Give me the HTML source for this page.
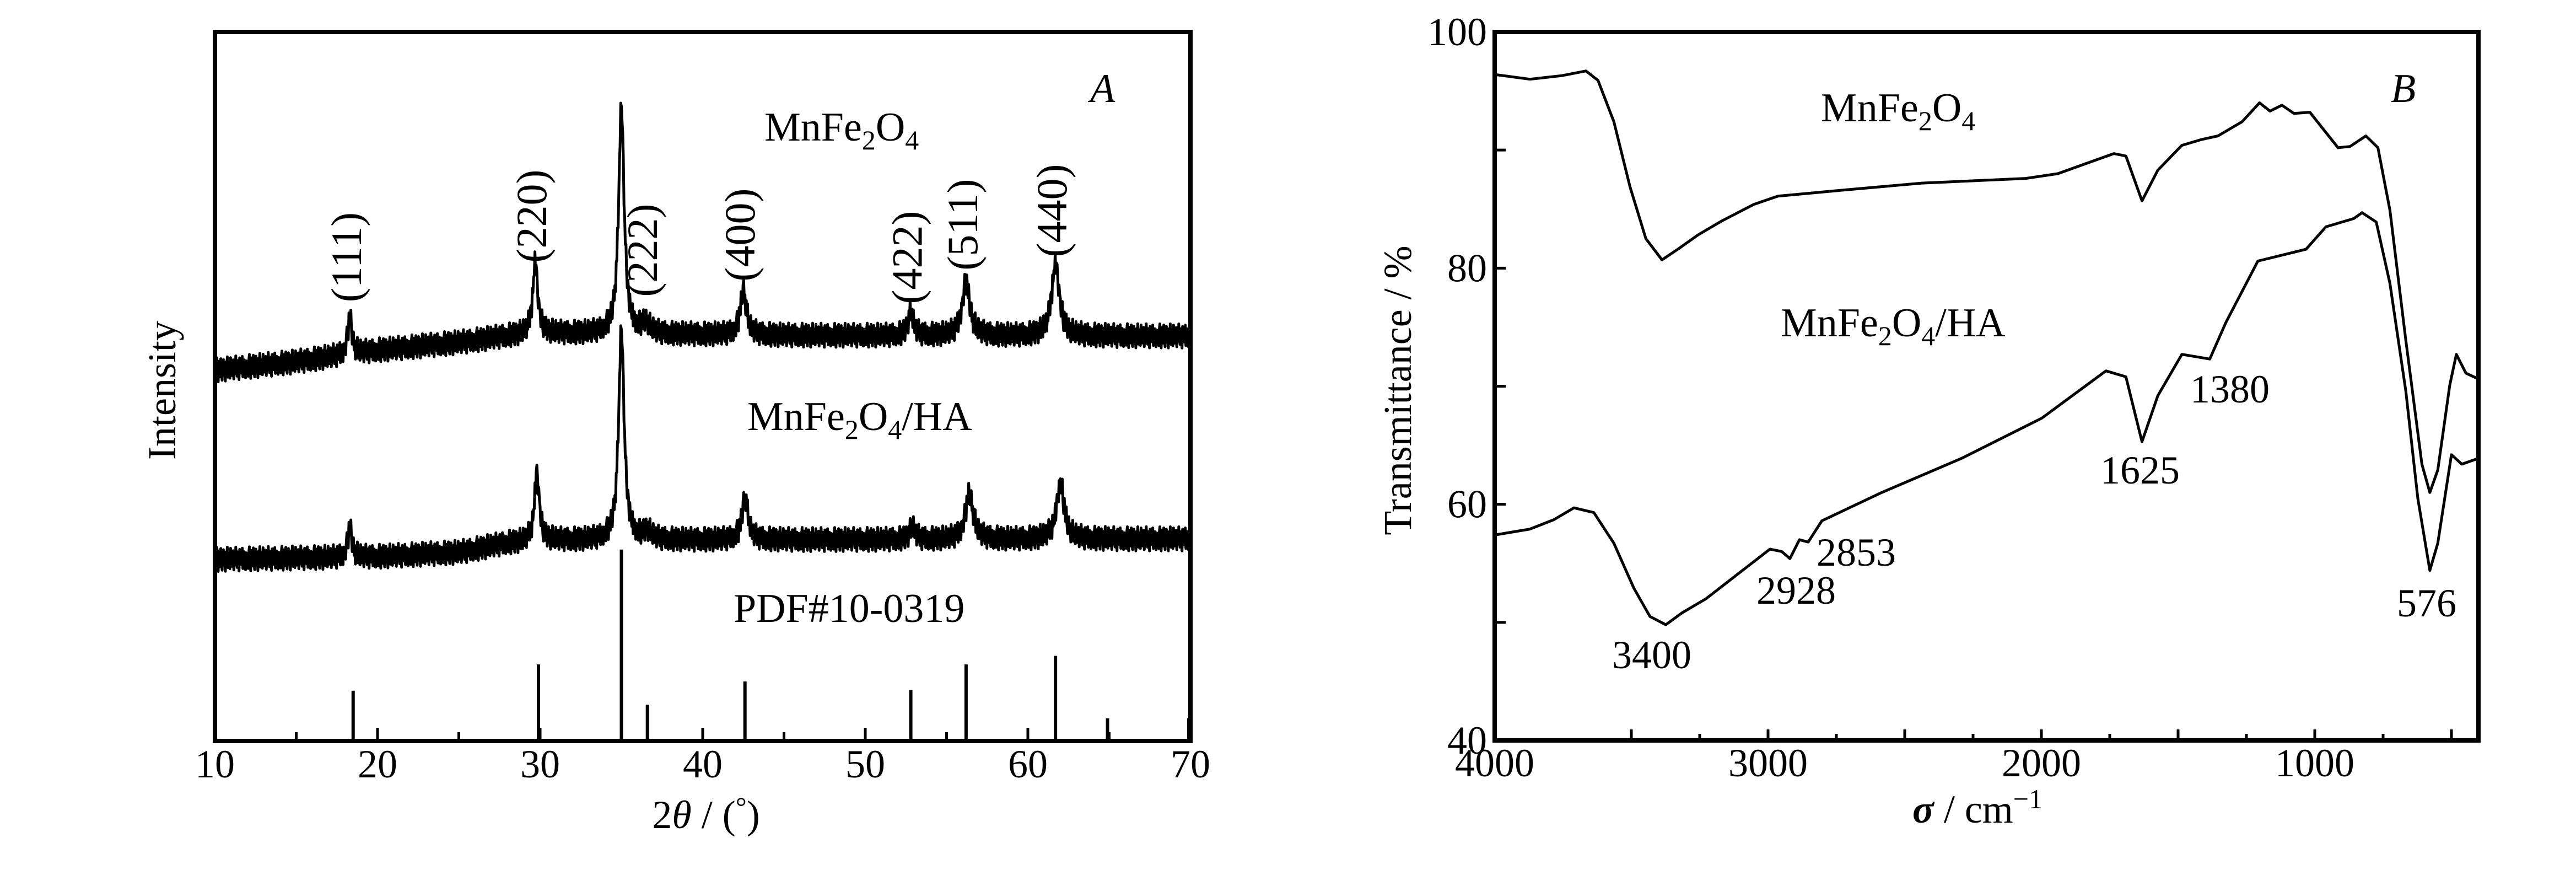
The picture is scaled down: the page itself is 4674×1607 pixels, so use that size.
<!DOCTYPE html>
<html><head><meta charset="utf-8"><style>
html,body{margin:0;padding:0;background:#fff;}
svg{display:block;font-family:"Liberation Serif",serif;}
</style></head><body>
<svg id="fig" width="4674" height="1607" viewBox="0 0 4674 1607" xmlns="http://www.w3.org/2000/svg">
<g id="panelA"></g>
<g id="panelB"></g>
</svg>
<script>
// ---------- Panel A data (XRD) ----------
const xrdTopBaseX = [10,15,20,25,28,30,45,70];
const xrdTopBaseY = [523,535,551,562,571,575,572,571];
const xrdTopPeakPos = [18.3,29.7,35.0,36.5,42.5,52.8,56.2,61.7];
const xrdTopPeakH = [54,101,322,15,64,33,75,102];
const xrdBotBaseX = [10,20,25,28,31,70];
const xrdBotBaseY = [256,260,266,279,283,285];
const xrdBotPeakPos = [18.3,29.8,35.0,36.6,42.6,52.9,56.4,62.0];
const xrdBotPeakH = [43,97,298,12,60,18,65,80];
const peakWidths = [0.15,0.18,0.2,0.3,0.22,0.2,0.28,0.28];
const noisePattern = [0.3,-0.8,0.5,1,-0.4,-1,0.7,0.1,-0.6,0.9,-0.2,-0.9,0.4,0.8,-0.5,0.2,-1,0.6,-0.3,1,-0.7,0.1,0.5,-0.8,0.9,-0.1,-0.6,0.3,0.7,-0.9,0.2,-0.4,1,-0.2,-0.7,0.6,0.4,-1,0.8,-0.3,0.1,-0.5,0.9,-0.8,0.3,0.6,-0.1,-0.9,0.5,0.2];
const pdfPos = [18.5,29.9,35.0,36.6,42.6,52.8,56.2,61.7,64.9,69.9];
const pdfH = [71,108,270,51,84,72,108,120,32,32];
const xTicksA = [10,20,30,40,50,60,70];
const millerLabels = ["(111)","(220)","(222)","(400)","(422)","(511)","(440)"];
const millerPos = [18.3,29.7,36.5,42.5,52.8,56.2,61.7];

// ---------- Panel B data (FTIR) ----------
const ftirTopWn = [4000,3871,3754,3666,3622,3564,3505,3447,3388,3330,3257,3169,3052,2964,2730,2437,2057,1940,1735,1691,1632,1574,1486,1413,1354,1266,1202,1164,1120,1076,1018,915,871,813,769,725,667,608,579,550,506,482,447,400];
const ftirTopT = [96.4,96.0,96.3,96.7,95.9,92.4,86.9,82.5,80.7,81.6,82.8,84.0,85.4,86.1,86.6,87.2,87.6,88.0,89.7,89.5,85.7,88.3,90.4,90.9,91.2,92.4,94.0,93.3,93.8,93.1,93.2,90.2,90.3,91.2,90.2,84.9,73.9,63.4,61.0,62.9,70.1,72.7,71.1,70.6];
const ftirBotWn = [4000,3871,3783,3710,3637,3564,3491,3432,3374,3315,3227,3110,2993,2950,2920,2885,2853,2803,2584,2291,1998,1764,1691,1632,1574,1486,1384,1325,1208,1120,1032,959,857,827,775,725,667,623,579,550,500,462,400];
const ftirBotT = [57.4,57.9,58.7,59.7,59.3,56.7,52.9,50.5,49.8,50.8,52.0,54.1,56.2,56.0,55.4,57.0,56.8,58.6,61.0,63.9,67.3,71.3,70.8,65.3,69.2,72.7,72.3,75.4,80.6,81.1,81.6,83.5,84.2,84.7,83.9,78.7,69.6,60.5,54.4,56.7,64.2,63.4,63.9];
const yTicksB = [40,60,80,100];
const xTicksB = [4000,3000,2000,1000];

const NS = "http://www.w3.org/2000/svg";
function mk(parent, tag, attrs, text){
  const e = document.createElementNS(NS, tag);
  for (const k in attrs) e.setAttribute(k, attrs[k]);
  if (text !== undefined) e.textContent = text;
  parent.appendChild(e); return e;
}
function interp(xs, ys, x){
  if (x <= xs[0]) return ys[0];
  for (let i=1;i<xs.length;i++){ if (x <= xs[i]){ const t=(x-xs[i-1])/(xs[i]-xs[i-1]); return ys[i-1]+t*(ys[i]-ys[i-1]); } }
  return ys[ys.length-1];
}

// ---------- Panel A ----------
const A = document.getElementById('panelA');
const aL=390, aR=2160, aT=58, aB=1344;
const ax = v => aL + (v-10)/60*(aR-aL);
const ay = v => aB - v*1.286;

function xrdPath(bx, by, pp, ph){
  let d = ""; let k=0;
  for (let x=10; x<=70.001; x+=0.04){
    let v = interp(bx, by, x);
    for (let i=0;i<pp.length;i++){ const w=peakWidths[i]; v += ph[i]/(1+((x-pp[i])/w)**2); }
    v += noisePattern[k % noisePattern.length]*17;
    d += (k?"L":"M") + ax(x).toFixed(1) + "," + ay(v).toFixed(1);
    k++;
  }
  return d;
}
const pTop = mk(A,'path',{d:xrdPath(xrdTopBaseX,xrdTopBaseY,xrdTopPeakPos,xrdTopPeakH),fill:'none',stroke:'#000','stroke-width':5,'stroke-linejoin':'round'});


const pBot = mk(A,'path',{d:xrdPath(xrdBotBaseX,xrdBotBaseY,xrdBotPeakPos,xrdBotPeakH),fill:'none',stroke:'#000','stroke-width':5,'stroke-linejoin':'round'});



for (let i=0;i<pdfPos.length;i++){
  const s = mk(A,'line',{x1:ax(pdfPos[i]),x2:ax(pdfPos[i]),y1:aB,y2:ay(pdfH[i]),stroke:'#000','stroke-width':6});
  
  
}
const fA = mk(A,'rect',{x:aL,y:aT,width:aR-aL,height:aB-aT,fill:'none',stroke:'#000','stroke-width':8});


for (let v=15; v<70; v+=5){
  const major = v%10===0;
  const t = mk(A,'line',{x1:ax(v),x2:ax(v),y1:aB,y2:aB-(major?24:16),stroke:'#000','stroke-width':5});
  
  
}
xTicksA.forEach(v=>{
  const t = mk(A,'text',{x:ax(v),y:1410,'font-size':72,'text-anchor':'middle'},String(v));
  
  
});
millerLabels.forEach((s,i)=>{
  const top = [395,302,380,349,390,333,302][i], bot=[538,482,528,503,544,482,462][i];
  const cy=(top+bot)/2, cx=ax(millerPos[i])+20;
  const t = mk(A,'text',{x:cx,y:cy,'font-size':78,'text-anchor':'middle',transform:`rotate(-90 ${cx} ${cy})`},s);
  
  
});
let t;
t = mk(A,'text',{x:1387,y:255,'font-size':74});


t.innerHTML = 'MnFe<tspan font-size="50" dy="16">2</tspan><tspan dy="-16">O</tspan><tspan font-size="50" dy="16">4</tspan>';
t = mk(A,'text',{x:1356,y:780,'font-size':74});


t.innerHTML = 'MnFe<tspan font-size="50" dy="16">2</tspan><tspan dy="-16">O</tspan><tspan font-size="50" dy="16">4</tspan><tspan dy="-16">/HA</tspan>';
t = mk(A,'text',{x:1331,y:1128,'font-size':74},'PDF#10-0319');


t = mk(A,'text',{x:1978,y:185,'font-size':74,'font-style':'italic'},'A');


t = mk(A,'text',{x:318,y:708,'font-size':72,'text-anchor':'middle',transform:'rotate(-90 318 708)'},'Intensity');


t = mk(A,'text',{x:1281,y:1502,'font-size':72,'text-anchor':'middle'});


t.innerHTML = '2<tspan font-style="italic">θ</tspan> / (<tspan dy="-22" font-size="50">°</tspan><tspan dy="22">)</tspan>';

// ---------- Panel B ----------
const B = document.getElementById('panelB');
const bL=2712, bR=4497, bT=58, bB=1343;
const bx = w => bL + (4000-w)*0.496;
const by = v => bB - (v-40)/60*(bB-bT);
function ftirPath(ws, ts){ return ws.map((w,i)=>(i?"L":"M")+bx(w).toFixed(1)+","+by(ts[i]).toFixed(1)).join(""); }
const f1 = mk(B,'path',{d:ftirPath(ftirTopWn,ftirTopT),fill:'none',stroke:'#000','stroke-width':5,'stroke-linejoin':'round'});


const f2 = mk(B,'path',{d:ftirPath(ftirBotWn,ftirBotT),fill:'none',stroke:'#000','stroke-width':5,'stroke-linejoin':'round'});


const fB = mk(B,'rect',{x:bL,y:bT,width:bR-bL,height:bB-bT,fill:'none',stroke:'#000','stroke-width':8});


for (let w=3500; w>=500; w-=250){
  const major = w%500===0;
  const k = mk(B,'line',{x1:bx(w),x2:bx(w),y1:bB,y2:bB-(major?20:12),stroke:'#000','stroke-width':5});
  
  
}
for (let v=50; v<100; v+=10){
  const k = mk(B,'line',{x1:bL,x2:bL+20,y1:by(v),y2:by(v),stroke:'#000','stroke-width':5});
  
  
}
xTicksB.forEach(v=>{
  const k = mk(B,'text',{x:bx(v),y:1408,'font-size':72,'text-anchor':'middle'},String(v));
  
  
});
yTicksB.forEach(v=>{
  const k = mk(B,'text',{x:bL-14,y:by(v)+24,'font-size':72,'text-anchor':'end'},String(v));
  
  
});
t = mk(B,'text',{x:3304,y:220,'font-size':74});


t.innerHTML = 'MnFe<tspan font-size="50" dy="16">2</tspan><tspan dy="-16">O</tspan><tspan font-size="50" dy="16">4</tspan>';
t = mk(B,'text',{x:3231,y:610,'font-size':74});


t.innerHTML = 'MnFe<tspan font-size="50" dy="16">2</tspan><tspan dy="-16">O</tspan><tspan font-size="50" dy="16">4</tspan><tspan dy="-16">/HA</tspan>';
t = mk(B,'text',{x:4338,y:185,'font-size':74,'font-style':'italic'},'B');


const annText = ["1380","1625","2853","2928","3400","576"];
const annX = [3974,3811,3296,3187,2925,4349];
const annY = [730,877,1026,1095,1212,1118];
annText.forEach((s,i)=>{
  const k = mk(B,'text',{x:annX[i],y:annY[i],'font-size':72},s);
  
  
});
t = mk(B,'text',{x:2560,y:708,'font-size':72,'text-anchor':'middle',transform:'rotate(-90 2560 708)'},'Transmittance / %');


t = mk(B,'text',{x:3588,y:1492,'font-size':72,'text-anchor':'middle'});


t.innerHTML = '<tspan font-weight="bold" font-style="italic">σ</tspan> / cm<tspan dy="-26" font-size="50">−1</tspan>';
</script>
</body></html>
